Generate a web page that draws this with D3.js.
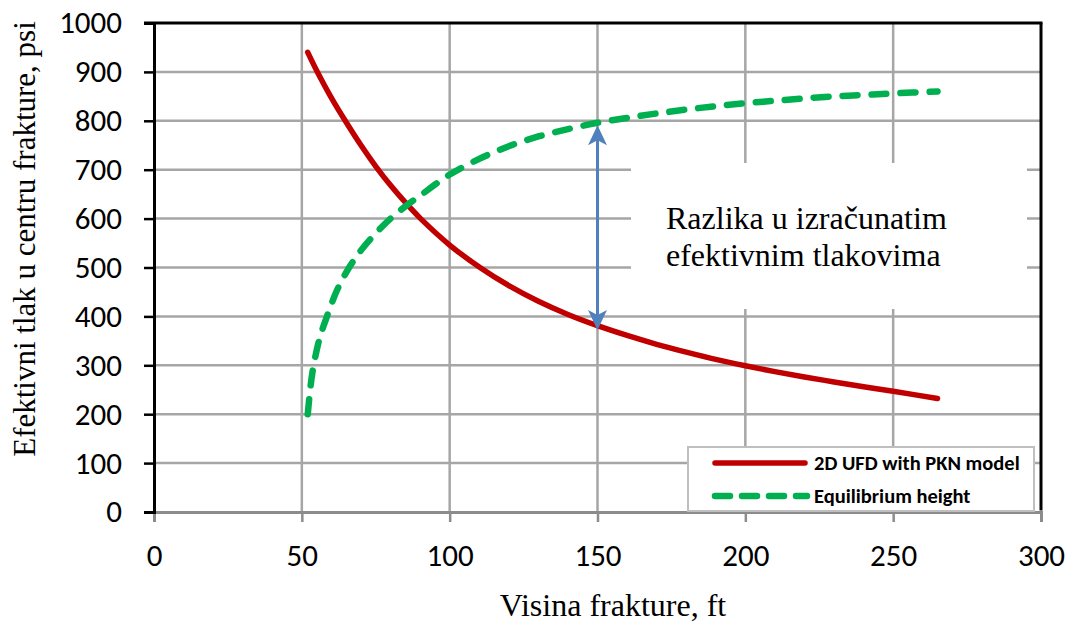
<!DOCTYPE html>
<html>
<head>
<meta charset="utf-8">
<script src="https://cdn.jsdelivr.net/npm/d3@7"></script>
<style>
  body { margin: 0; background: #fff; }
  .tick text { font-family: Carlito, Lato, sans-serif; }
</style>
</head>
<body>
<div id="chart"></div>
<script>
var width = 1072;
var height = 637;

// data
var ufdX = [52, 55, 60, 65, 70, 75, 80, 85, 90, 100, 110, 120, 130, 140, 150, 160, 170, 180, 190, 200, 210, 220, 230, 240, 250, 265];
var ufdY = [940, 903, 847, 797, 750, 707, 668, 633, 601, 546, 501, 463, 431, 404, 381, 361, 343, 327, 312, 299, 287, 276, 266, 256, 247, 232];
var eqX = [52, 53, 54, 56, 58.5, 62, 66, 70, 75, 80, 85, 90, 100, 110, 120, 130, 140, 150, 160, 170, 180, 190, 200, 210, 220, 230, 240, 250, 265];
var eqY = [200, 260, 300, 355, 400, 455, 500, 535, 570, 600, 625, 647, 690, 722, 748, 768, 783, 796, 806, 815, 823, 830, 836, 841, 846, 850, 853, 856, 860];
var xTicks = [0, 50, 100, 150, 200, 250, 300];
var yTicks = [0, 100, 200, 300, 400, 500, 600, 700, 800, 900, 1000];
var arrowX = 150, arrowTop = 791, arrowBottom = 372;
var seriesNames = ["2D UFD with PKN model", "Equilibrium height"];

var svg = d3.select("#chart")
    .append("svg")
    .attr("width", width)
    .attr("height", height);

var margin = ({top: 23, right: 31, bottom: 125, left: 154}),
    iwidth = width - margin.left - margin.right,
    iheight = height - margin.top - margin.bottom;

var x = d3.scaleLinear().domain([0, 300]).range([0, iwidth]);
var y = d3.scaleLinear().domain([0, 1000]).range([iheight, 0]);

var g = svg.append("g")
    .attr("transform", "translate(" + margin.left + "," + margin.top + ")");

// grid
g.append("g")
    .selectAll("line.v")
    .data(xTicks.slice(1, -1))
    .enter().append("line")
    .attr("x1", function(d) { return x(d); })
    .attr("x2", function(d) { return x(d); })
    .attr("y1", 0)
    .attr("y2", iheight)
    .attr("stroke", "#a6a6a6")
    .attr("stroke-width", 2.5);
g.append("g")
    .selectAll("line.h")
    .data(yTicks.slice(1, -1))
    .enter().append("line")
    .attr("x1", 0)
    .attr("x2", iwidth)
    .attr("y1", function(d) { return y(d); })
    .attr("y2", function(d) { return y(d); })
    .attr("stroke", "#a6a6a6")
    .attr("stroke-width", 2.5);

// white text box over the grid
g.append("rect")
    .attr("x", 631 - margin.left)
    .attr("y", 163 - margin.top)
    .attr("width", 396)
    .attr("height", 146)
    .attr("fill", "#fff");
var note = g.append("text")
    .attr("x", 666 - margin.left)
    .attr("y", 229 - margin.top)
    .style("font-family", "'Liberation Serif', 'Times New Roman', serif")
    .style("font-size", "32px")
    .attr("fill", "#000");
note.append("tspan").text("Razlika u izračunatim");
note.append("tspan").attr("x", 666 - margin.left).attr("dy", 37).text("efektivnim tlakovima");

// X axis
var xAxis = g.append("g")
    .attr("transform", "translate(0," + iheight + ")")
    .call(d3.axisBottom(x).tickValues(xTicks).tickFormat(d3.format("d")).tickSize(10).tickPadding(22));
xAxis.select(".domain").attr("stroke", "#8c8c8c").attr("stroke-width", 3);
xAxis.selectAll(".tick line").attr("stroke", "#8c8c8c").attr("stroke-width", 2.5);
xAxis.selectAll(".tick text").style("font-size", "31px").attr("fill", "#000");

// Y axis
var yAxis = g.append("g")
    .call(d3.axisLeft(y).tickValues(yTicks).tickFormat(d3.format("d")).tickSize(10).tickPadding(22));
yAxis.select(".domain").attr("stroke", "#000").attr("stroke-width", 3);
yAxis.selectAll(".tick line").attr("stroke", "#000").attr("stroke-width", 2.5);
yAxis.selectAll(".tick text").style("font-size", "31px").attr("fill", "#000");

// top and right frame
g.append("line")
    .attr("x1", -10).attr("x2", iwidth + 1.5)
    .attr("y1", 0).attr("y2", 0)
    .attr("stroke", "#000").attr("stroke-width", 3);
g.append("line")
    .attr("x1", iwidth).attr("x2", iwidth)
    .attr("y1", 0).attr("y2", iheight - 1.5)
    .attr("stroke", "#000").attr("stroke-width", 3);

// lines
var line = d3.line()
    .x(function(d) { return x(d[0]); })
    .y(function(d) { return y(d[1]); })
    .curve(d3.curveCatmullRom.alpha(0.5));

g.append("path")
    .datum(d3.zip(ufdX, ufdY))
    .attr("fill", "none")
    .attr("stroke", "#c00000")
    .attr("stroke-width", 5.5)
    .attr("stroke-linecap", "round")
    .attr("d", line);

g.append("path")
    .datum(d3.zip(eqX, eqY))
    .attr("fill", "none")
    .attr("stroke", "#00b050")
    .attr("stroke-width", 6.5)
    .attr("stroke-linecap", "round")
    .attr("stroke-dasharray", "15,14")
    .attr("d", line);

// double arrow
var ax = x(arrowX), at = y(arrowTop), ab = y(arrowBottom);
g.append("line")
    .attr("x1", ax).attr("x2", ax)
    .attr("y1", at + 12).attr("y2", ab - 12)
    .attr("stroke", "#4f81bd")
    .attr("stroke-width", 3);
g.append("path")
    .attr("d", "M" + ax + "," + at + "L" + (ax + 9.5) + "," + (at + 20) +
          "L" + ax + "," + (at + 15) + "L" + (ax - 9.5) + "," + (at + 20) + "Z")
    .attr("fill", "#4f81bd");
g.append("path")
    .attr("d", "M" + ax + "," + ab + "L" + (ax + 9.5) + "," + (ab - 20) +
          "L" + ax + "," + (ab - 15) + "L" + (ax - 9.5) + "," + (ab - 20) + "Z")
    .attr("fill", "#4f81bd");

// legend
var lg = svg.append("g").attr("transform", "translate(688,447)");
lg.append("rect")
    .attr("width", 346)
    .attr("height", 64)
    .attr("fill", "#fff")
    .attr("stroke", "#bfbfbf")
    .attr("stroke-width", 2);
lg.append("line")
    .attr("x1", 27).attr("x2", 117)
    .attr("y1", 16).attr("y2", 16)
    .attr("stroke", "#c00000")
    .attr("stroke-width", 5.5)
    .attr("stroke-linecap", "round");
lg.append("line")
    .attr("x1", 27).attr("x2", 119)
    .attr("y1", 49).attr("y2", 49)
    .attr("stroke", "#00b050")
    .attr("stroke-width", 6.5)
    .attr("stroke-linecap", "round")
    .attr("stroke-dasharray", "15,12");
lg.selectAll("text")
    .data(seriesNames)
    .enter().append("text")
    .attr("x", 126)
    .attr("y", function(d, i) { return 16 + i * 33; })
    .attr("dy", "0.35em")
    .style("font-family", "Carlito, Lato, sans-serif")
    .style("font-weight", "bold")
    .style("font-size", "20.5px")
    .attr("fill", "#000")
    .text(function(d) { return d; });

// axis titles
svg.append("text")
    .attr("x", 613)
    .attr("y", 616)
    .attr("text-anchor", "middle")
    .style("font-family", "'Liberation Serif', 'Times New Roman', serif")
    .style("font-size", "32px")
    .text("Visina frakture, ft");

svg.append("text")
    .attr("transform", "translate(35,239) rotate(-90)")
    .attr("text-anchor", "middle")
    .style("font-family", "'Liberation Serif', 'Times New Roman', serif")
    .style("font-size", "31px")
    .text("Efektivni tlak u centru frakture, psi");
</script>
</body>
</html>
